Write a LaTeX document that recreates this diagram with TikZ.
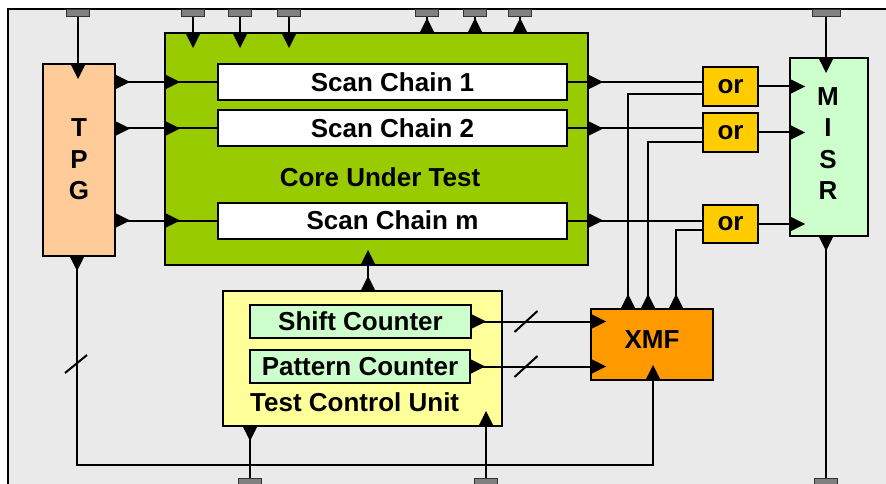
\documentclass[tikz,border=0pt]{standalone}
\usepackage{fontspec}
\setmainfont{Liberation Sans}
\definecolor{panel}{HTML}{EAEAEA}
\definecolor{coregreen}{HTML}{99CC00}
\definecolor{tpgfill}{HTML}{FFCC99}
\definecolor{misrfill}{HTML}{CCFFCC}
\definecolor{orfill}{HTML}{FFCC00}
\definecolor{xmffill}{HTML}{FF9900}
\definecolor{tcufill}{HTML}{FFFF99}
\definecolor{padgray}{HTML}{808080}
\begin{document}
\begin{tikzpicture}[x=1pt,y=-1pt,
  font=\fontsize{26}{30}\selectfont\bfseries,
  box/.style={draw, line width=2pt, inner sep=0pt, outer sep=0pt, anchor=north west},
  iopad/.style={draw=black!80, line width=1pt, fill=padgray, minimum width=23pt,
                minimum height=7pt, inner sep=0pt, outer sep=0pt},
  wire/.style={line width=2pt},
  stack/.style={align=center, font=\fontsize{26}{31.5}\selectfont\bfseries},
  port/.pic={\fill (0,-7.5) -- (15,0) -- (0,7.5) -- cycle;}
]
\clip (0,0) rectangle (886,484);
\useasboundingbox (0,0) rectangle (886,484);
\fill[white] (0,0) rectangle (886,484);
\draw[line width=2pt, fill=panel] (8,9) rectangle (900,490);

% main blocks
\node[box, fill=coregreen, minimum width=423pt, minimum height=232pt] (core) at (165,33) {};
\node[box, fill=tpgfill, minimum width=72pt, minimum height=192pt] (tpg) at (43,64) {};
\node[box, fill=white, minimum width=349pt, minimum height=36pt] (ch1) at (218,64) {Scan Chain 1};
\node[box, fill=white, minimum width=349pt, minimum height=36pt] (ch2) at (218,110.5) {Scan Chain 2};
\node[box, fill=white, minimum width=349pt, minimum height=36pt] (chm) at (218,202.5) {Scan Chain m};
\node at (380,177) {Core Under Test};
\node[stack] at (79,159.5) {T\\P\\G};

\node[box, fill=orfill, minimum width=55pt, minimum height=39pt] (or1) at (703,67) {or};
\node[box, fill=orfill, minimum width=55pt, minimum height=39pt] (or2) at (703,113) {or};
\node[box, fill=orfill, minimum width=55pt, minimum height=38pt] (orm) at (703,205) {or};

\node[box, fill=misrfill, minimum width=78pt, minimum height=178pt] (misr) at (790,58) {};
\node[stack] at (828,143.5) {M\\I\\S\\R};

\node[box, fill=xmffill, minimum width=122pt, minimum height=71pt] (xmf) at (591,309) {};
\node at (652,340) {XMF};

\node[box, fill=tcufill, minimum width=279pt, minimum height=135pt] (tcu) at (223,291) {};
\node[box, fill=misrfill, minimum width=221pt, minimum height=33pt] (shift) at (250,305) {Shift Counter};
\node[box, fill=misrfill, minimum width=220pt, minimum height=33pt] (patt) at (250,350) {Pattern Counter};
\node[anchor=west, inner sep=0pt] at (250,402) {Test Control Unit};

% pads on the top edge
\node[iopad] (pT) at (78,13.5) {};
\draw[wire] (pT.south) -- (pT.south |- tpg.north);
\pic[rotate=-90] at (pT.south |- tpg.north) {port};

\foreach \n/\x in {1/193,2/240,3/289} {
  \node[iopad] (pin\n) at (\x,13.5) {};
  \draw[wire] (pin\n.south) -- (pin\n.south |- core.north);
  \pic[rotate=-90] at (pin\n.south |- core.north) {port};
}
\foreach \n/\x in {1/427,2/475,3/520} {
  \node[iopad] (pout\n) at (\x,13.5) {};
  \draw[wire] (pout\n.south |- core.north) -- (pout\n.south);
  \pic[rotate=90] at (pout\n.south |- core.north) {port};
}

% TPG into the scan chains, chains out to the OR gates
\foreach \c/\o in {ch1/or1,ch2/or2,chm/orm} {
  \draw[wire] (\c.west -| tpg.east) -- (\c.west);
  \pic at (\c.west -| tpg.east) {port};
  \pic at (\c.west -| core.west) {port};
  \draw[wire] (\c.east) -- (\c.east -| \o.west);
  \pic at (\c.east -| core.east) {port};
}

% OR gates into the MISR
\foreach \o in {or1,or2,orm} {
  \draw[wire] (\o.east) -- (\o.east -| misr.west);
  \pic at (\o.east -| misr.west) {port};
}

% XMF mask lines to the second OR inputs
\coordinate (xm1) at (628,94);
\coordinate (xm2) at (648,142);
\coordinate (xm3) at (676,230);
\foreach \k/\o in {xm1/or1,xm2/or2,xm3/orm} {
  \draw[wire] (\k |- xmf.north) -- (\k) -- (\k -| \o.west);
  \pic[rotate=90] at (\k |- xmf.north) {port};
}

% MISR pads
\node[iopad, minimum width=28pt] (pM) at (826,13.5) {};
\draw[wire] (pM.south) -- (pM.south |- misr.north);
\pic[rotate=-90] at (pM.south |- misr.north) {port};
\node[iopad] (pS) at (826,481.5) {};
\draw[wire] (pS.north |- misr.south) -- (pS.north);
\pic[rotate=-90] at (pS.north |- misr.south) {port};

% TPG bus down and round to the XMF
\coordinate (tpgo) at ([xshift=-2pt]tpg.south);
\coordinate (xb) at (653,465);
\draw[wire] (tpgo) |- (xb) -- (xb |- xmf.south);
\pic[rotate=-90] at (tpgo) {port};
\pic[rotate=90] at (xb |- xmf.south) {port};
\coordinate (s1) at (76,364);
\draw[wire] ([shift={(-11,9)}]s1) -- ([shift={(11,-9)}]s1);

% test control unit links
\node[iopad] (pC1) at (250,481.5) {};
\draw[wire] (pC1.north |- tcu.south) -- (pC1.north);
\pic[rotate=-90] at (pC1.north |- tcu.south) {port};
\node[iopad] (pC2) at (486,481.5) {};
\draw[wire] (pC2.north) -- (pC2.north |- tcu.south);
\pic[rotate=90] at (pC2.north |- tcu.south) {port};

\coordinate (tc) at ([xshift=5.5pt]tcu.north);
\draw[wire] (tc) -- (tc |- core.south);
\pic[rotate=90] at (tc) {port};
\pic[rotate=90] at (tc |- core.south) {port};

% counters into the XMF
\foreach \k in {shift,patt} {
  \draw[wire] (\k.east) -- (\k.east -| xmf.west);
  \pic at (\k.east) {port};
  \pic at (\k.east -| xmf.west) {port};
}
\coordinate (s2) at (526,321.5);
\coordinate (s3) at (526,366.5);
\draw[wire] ([shift={(-11.5,10.5)}]s2) -- ([shift={(11.5,-10.5)}]s2);
\draw[wire] ([shift={(-11.5,10.5)}]s3) -- ([shift={(11.5,-10.5)}]s3);
\end{tikzpicture}
\end{document}
